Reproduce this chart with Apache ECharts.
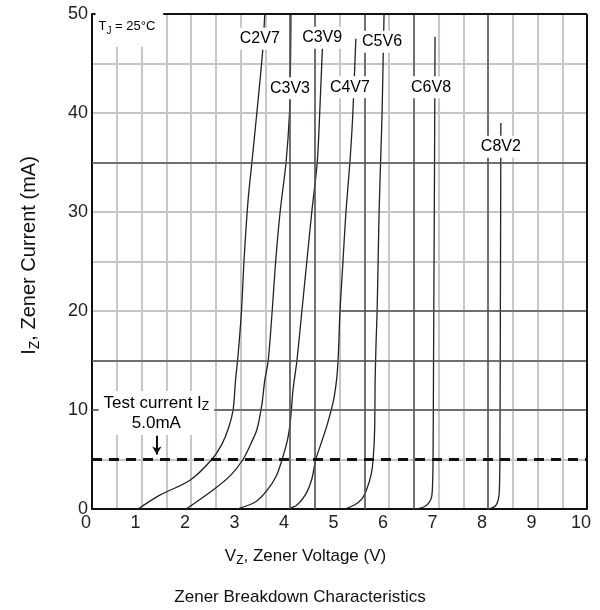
<!DOCTYPE html>
<html><head><meta charset="utf-8">
<script src="https://cdn.jsdelivr.net/npm/echarts@6/dist/echarts.min.js"></script>
<style>html,body{margin:0;padding:0;background:#fff}#c{width:600px;height:610px}</style>
</head><body><div id="c"></div>
<script>
// ---- data (V_Z in volts, I_Z in mA) ----
const c2v7 = [[0.93,0],[1.37,1.4],[1.98,2.9],[2.42,5],[2.62,6.5],[2.76,8.2],[2.85,10],[2.9,13],[2.95,15.5],[3.02,20],[3.07,25],[3.15,31],[3.23,35],[3.33,40],[3.45,46.4],[3.49,50]];
const c3v3 = [[1.9,0],[2.44,1.9],[2.8,3.4],[3.05,5],[3.2,6.5],[3.33,8],[3.43,10.5],[3.49,13],[3.56,15],[3.64,20],[3.71,25],[3.8,30],[3.92,35],[3.99,40],[4.01,45],[4.02,50]];
const c3v9 = [[2.93,0],[3.3,0.7],[3.54,1.9],[3.72,3.3],[3.84,5],[3.95,7],[4.01,9],[4.06,12],[4.14,15],[4.24,20],[4.34,25],[4.44,30],[4.55,35],[4.6,40],[4.65,46],[4.67,48]];
const c4v7 = [[3.96,0],[4.14,0.4],[4.32,1.5],[4.44,3],[4.52,5],[4.62,6.5],[4.75,8.5],[4.88,11],[4.95,13.5],[4.98,16],[5.01,20],[5.07,25],[5.13,30],[5.21,35],[5.27,40],[5.33,47.5]];
const c5v6 = [[5.11,0],[5.3,0.4],[5.45,1.0],[5.55,2],[5.64,3.5],[5.68,5],[5.71,8],[5.72,13],[5.74,17],[5.76,20],[5.78,25],[5.8,30],[5.83,35],[5.86,40],[5.88,45],[5.9,50]];
const c6v8 = [[6.53,0],[6.7,0.2],[6.8,0.6],[6.86,1.2],[6.88,2.5],[6.89,5],[6.9,15],[6.91,25],[6.92,35],[6.93,47.7]];
const c8v2 = [[8.02,0],[8.15,0.3],[8.21,1],[8.23,2],[8.24,5],[8.25,20],[8.26,39]];
const curves = [c2v7, c3v3, c3v9, c4v7, c5v6, c6v8, c8v2];
const curveNames = ['C2V7','C3V3','C3V9','C4V7','C5V6','C6V8','C8V2'];
const curveLabelAt = [[3.39,47.5],[4.0,42.5],[4.65,47.6],[5.21,42.6],[5.86,47.2],[6.85,42.6],[8.26,36.6]];
const testCurrent = 5;
const darkVLines = [4, 4.5, 5.5, 6.5, 8];
const darkHLines = [10, 15, 35];
const partialH20 = [[5, 20], [10, 20]];
const arrowLine = [[1.31, 7.4], [1.31, 5.5]];
const tjAt = [0.06, 48.5];
const testLabelAt = [1.3, 9.7];

const FONT = 'Liberation Sans, Arial, sans-serif';
const chart = echarts.init(document.getElementById('c'));

const subRich = (fs) => ({
  sub: { fontSize: fs, fontFamily: FONT, color: '#000', lineHeight: fs, verticalAlign: 'bottom' }
});

const lightGrid = { color: '#c6c6d0', width: 2 };
const hidden = { color: 'rgba(0,0,0,0)' };

const series = curves.map((d, i) => ({
  name: curveNames[i], type: 'line', data: d, showSymbol: false, symbol: 'none',
  smooth: 0.3, lineStyle: { color: '#222', width: 1.3 }, z: 3, silent: true
}));

series.push({
  type: 'line', data: [], z: 2, silent: true,
  markLine: {
    silent: true, symbol: 'none', label: { show: false },
    lineStyle: { color: '#555', width: 1.5, type: 'solid' },
    data: darkVLines.map(v => ({ xAxis: v }))
      .concat(darkHLines.map(v => ({ yAxis: v })))
      .concat([[{ coord: partialH20[0] }, { coord: partialH20[1] }]])
  }
});

// plot frame (top and right edges)
series.push({
  type: 'line', data: [], z: 5, silent: true,
  markLine: {
    silent: true, symbol: 'none', label: { show: false },
    lineStyle: { color: '#111', width: 2, type: 'solid' },
    data: [{ yAxis: 50 }, { xAxis: 10 }]
  }
});

series.push({
  type: 'line', data: [], z: 4, silent: true,
  markLine: {
    silent: true, symbol: 'none', label: { show: false },
    lineStyle: { color: '#111', width: 3, type: [10, 7] },
    data: [{ yAxis: testCurrent }]
  }
});

series.push({
  type: 'line', data: [], z: 4, silent: true,
  markLine: {
    silent: true, symbol: ['none', 'arrow'], symbolSize: [7, 8], label: { show: false },
    lineStyle: { color: '#111', width: 2, type: 'solid' },
    data: [[{ coord: arrowLine[0] }, { coord: arrowLine[1] }]]
  }
});

const baseLabel = {
  show: true, color: '#000', opacity: 1, fontFamily: FONT,
  textBorderWidth: 0, backgroundColor: '#fff'
};
series.push({
  type: 'scatter', z: 10, silent: true, symbolSize: 1, itemStyle: hidden,
  data: curveNames.map((n, i) => ({ name: n, value: curveLabelAt[i] })),
  label: Object.assign({}, baseLabel, {
    position: 'inside', fontSize: 16, padding: [3, 3], formatter: p => p.name
  })
});
series.push({
  type: 'scatter', z: 10, silent: true, symbolSize: 1, itemStyle: hidden,
  data: [{ name: 'tj', value: tjAt }],
  label: Object.assign({}, baseLabel, {
    position: 'right', distance: 0, fontSize: 13,
    padding: [7, 8, 11, 3], lineHeight: 18,
    formatter: 'T{sub|J} = 25°C', rich: subRich(10)
  })
});
series.push({
  type: 'scatter', z: 10, silent: true, symbolSize: 1, itemStyle: hidden,
  data: [{ name: 'test', value: testLabelAt }],
  label: Object.assign({}, baseLabel, {
    position: 'inside', fontSize: 17, padding: [2, 5], lineHeight: 20, align: 'center',
    formatter: 'Test current I{sub|Z}\n5.0mA', rich: subRich(12)
  })
});

chart.setOption({
  animation: false,
  backgroundColor: '#fff',
  title: {
    text: 'Zener Breakdown Characteristics', left: 'center', top: 584,
    textStyle: { fontSize: 17, fontWeight: 'normal', color: '#111', fontFamily: FONT }
  },
  grid: {
    left: 92, right: 13, top: 14, bottom: 101, containLabel: false, outerBoundsMode: 'none',
    show: false
  },
  xAxis: {
    type: 'value', min: 0, max: 10, interval: 1,
    name: 'V{sub|Z}, Zener Voltage (V)', nameLocation: 'middle', nameGap: 36,
    nameTextStyle: { fontSize: 17, color: '#111', fontFamily: FONT, lineHeight: 22, padding: [0, 68, 0, 0], rich: subRich(12) },
    axisLine: { show: true, lineStyle: { color: '#111', width: 2 } },
    axisTick: { show: false },
    axisLabel: { fontSize: 18, color: '#222', fontFamily: FONT, margin: 5, padding: [0, 12, 0, 0] },
    splitLine: { show: true, lineStyle: lightGrid },
    minorTick: { show: false, splitNumber: 2 },
    minorSplitLine: { show: true, lineStyle: lightGrid }
  },
  yAxis: {
    type: 'value', min: 0, max: 50, interval: 10,
    name: 'I{sub|Z}, Zener Current (mA)', nameLocation: 'middle', nameGap: 50,
    nameTextStyle: { fontSize: 20, color: '#111', fontFamily: FONT, lineHeight: 26, padding: [0, 0, 0, 12], rich: subRich(14) },
    axisLine: { show: true, lineStyle: { color: '#111', width: 2 } },
    axisTick: { show: false },
    axisLabel: { fontSize: 18, color: '#222', fontFamily: FONT, margin: 4 },
    splitLine: { show: true, lineStyle: { color: '#c8c4c4', width: 2 } },
    minorTick: { show: false, splitNumber: 2 },
    minorSplitLine: { show: true, lineStyle: { color: '#c8c4c4', width: 2 } }
  },
  series: series
});
</script></body></html>
